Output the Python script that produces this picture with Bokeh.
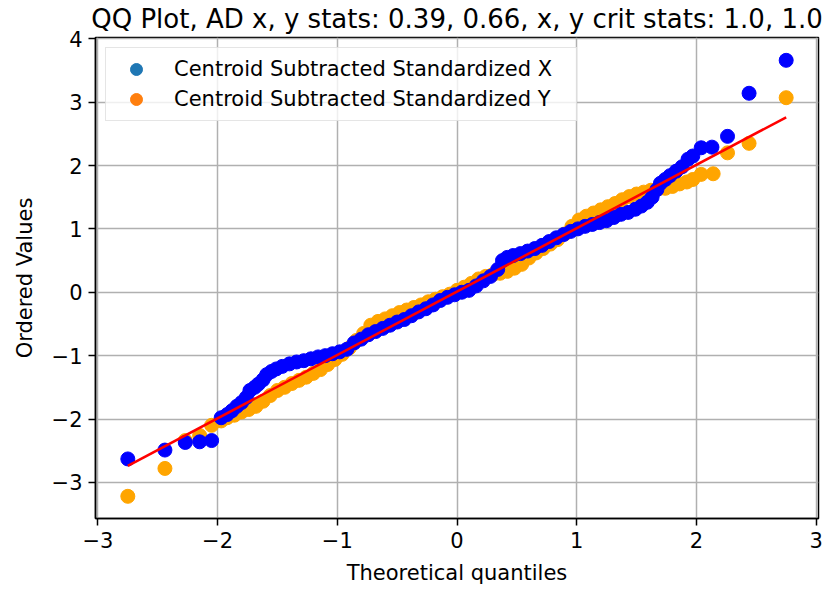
from bokeh.plotting import figure
from bokeh.models import ColumnDataSource, FixedTicker, Legend, LegendItem, Range1d
from bokeh.embed import file_html
from bokeh.resources import INLINE

# ---- texts ----
title_text = "QQ Plot, AD x, y stats: 0.39, 0.66, x, y crit stats: 1.0, 1.0"
x_label = "Theoretical quantiles"
y_label = "Ordered Values"
name_x = "Centroid Subtracted Standardized X"
name_y = "Centroid Subtracted Standardized Y"

# ---- X series: theoretical quantile vs ordered value ----
quant_x = [-2.75, -2.44, -2.27, -2.15, -2.05, -1.97, -1.92, -1.88, -1.84, -1.80,
           -1.76, -1.73, -1.69, -1.66, -1.62, -1.59, -1.55, -1.51, -1.46, -1.40,
           -1.34, -1.28, -1.22, -1.16, -1.10, -1.04, -0.98, -0.92, -0.86, -0.80,
           -0.74, -0.68, -0.62, -0.56, -0.50, -0.44, -0.38, -0.32, -0.26, -0.20,
           -0.14, -0.08, -0.02, 0.04, 0.10, 0.16, 0.22, 0.28, 0.34, 0.38,
           0.42, 0.47, 0.53, 0.59, 0.65, 0.71, 0.77, 0.83, 0.89, 0.95,
           1.01, 1.07, 1.13, 1.19, 1.25, 1.31, 1.37, 1.43, 1.49, 1.54,
           1.59, 1.63, 1.67, 1.70, 1.74, 1.78, 1.83, 1.88, 1.93, 1.97,
           2.04, 2.13, 2.26, 2.44, 2.75]
ordered_x = [-2.63, -2.49, -2.37, -2.36, -2.34, -1.98, -1.93, -1.87, -1.80, -1.74,
             -1.66, -1.55, -1.50, -1.45, -1.38, -1.30, -1.25, -1.21, -1.17, -1.13,
             -1.10, -1.08, -1.05, -1.02, -1.00, -0.97, -0.94, -0.90, -0.80, -0.74,
             -0.67, -0.62, -0.57, -0.52, -0.47, -0.43, -0.37, -0.31, -0.26, -0.20,
             -0.13, -0.08, -0.04, 0.00, 0.03, 0.10, 0.18, 0.25, 0.36, 0.50,
             0.55, 0.58, 0.61, 0.65, 0.69, 0.74, 0.80, 0.86, 0.91, 0.96,
             1.00, 1.04, 1.07, 1.10, 1.13, 1.18, 1.23, 1.26, 1.31, 1.36,
             1.42, 1.50, 1.62, 1.72, 1.78, 1.84, 1.91, 1.98, 2.10, 2.15,
             2.28, 2.29, 2.46, 3.14, 3.66]

# ---- Y series ----
quant_y = [-2.75, -2.44, -2.27, -2.15, -2.05, -1.97, -1.92, -1.86, -1.80, -1.74,
           -1.68, -1.62, -1.56, -1.50, -1.44, -1.38, -1.32, -1.26, -1.20, -1.14,
           -1.08, -1.02, -0.96, -0.90, -0.84, -0.78, -0.72, -0.66, -0.60, -0.54,
           -0.48, -0.42, -0.36, -0.30, -0.24, -0.18, -0.12, -0.06, 0.00, 0.06,
           0.12, 0.18, 0.24, 0.30, 0.36, 0.42, 0.48, 0.54, 0.60, 0.66,
           0.72, 0.78, 0.84, 0.90, 0.96, 1.02, 1.08, 1.14, 1.20, 1.26,
           1.32, 1.38, 1.44, 1.50, 1.56, 1.62, 1.68, 1.74, 1.80, 1.86,
           1.92, 1.97, 2.04, 2.14, 2.26, 2.44, 2.75]
ordered_y = [-3.22, -2.78, -2.34, -2.26, -2.10, -2.03, -1.98, -1.94, -1.89, -1.85,
             -1.80, -1.72, -1.63, -1.55, -1.50, -1.44, -1.39, -1.34, -1.28, -1.22,
             -1.14, -1.06, -0.98, -0.88, -0.76, -0.65, -0.52, -0.46, -0.42, -0.37,
             -0.32, -0.28, -0.24, -0.20, -0.15, -0.11, -0.07, -0.03, 0.03, 0.08,
             0.14, 0.21, 0.25, 0.28, 0.30, 0.33, 0.38, 0.44, 0.54, 0.62,
             0.69, 0.76, 0.83, 0.92, 1.04, 1.14, 1.20, 1.25, 1.30, 1.35,
             1.40, 1.46, 1.51, 1.55, 1.58, 1.61, 1.63, 1.64, 1.67, 1.71,
             1.74, 1.78, 1.86, 1.87, 2.20, 2.35, 3.07]

# ---- least-squares reference line ----
fit_slope = 1.0
fit_intercept = 0.01

# ---- ticks ----
x_ticks = [-3, -2, -1, 0, 1, 2, 3]
x_tick_labels = ["\u22123", "\u22122", "\u22121", "0", "1", "2", "3"]
y_ticks = [-3, -2, -1, 0, 1, 2, 3, 4]
y_tick_labels = ["\u22123", "\u22122", "\u22121", "0", "1", "2", "3", "4"]

FONT = "DejaVu Sans"

p = figure(width=826, height=589,
           x_range=Range1d(-3.02, 3.02), y_range=Range1d(-3.57, 4.02),
           output_backend="svg", toolbar_location=None,
           min_border_left=95, min_border_right=8,
           min_border_top=37, min_border_bottom=71)

p.background_fill_color = "white"
p.border_fill_color = "white"
p.outline_line_color = "black"
p.outline_line_width = 1.5
p.outline_line_alpha = 1.0

p.title.text = title_text
p.title.text_font = FONT
p.title.text_font_size = "26px"
p.title.text_font_style = "normal"
p.title.text_color = "black"
p.title.align = "center"
p.title.vertical_align = "top"
p.title.standoff = 4

p.xaxis.ticker = FixedTicker(ticks=x_ticks)
p.yaxis.ticker = FixedTicker(ticks=y_ticks)
p.xaxis.major_label_overrides = dict(zip(x_ticks, x_tick_labels))
p.yaxis.major_label_overrides = dict(zip(y_ticks, y_tick_labels))
p.xaxis.axis_label = x_label
p.yaxis.axis_label = y_label

for ax in (p.xaxis[0], p.yaxis[0]):
    ax.axis_label_text_font = FONT
    ax.axis_label_text_font_size = "21px"
    ax.axis_label_text_font_style = "normal"
    ax.axis_label_text_color = "black"
    ax.major_label_text_font = FONT
    ax.major_label_text_font_size = "21px"
    ax.major_label_text_color = "black"
    ax.major_tick_out = 7
    ax.major_tick_in = 0
    ax.minor_tick_out = 0
    ax.minor_tick_in = 0
    ax.axis_line_color = "black"
    ax.axis_line_width = 1.5
    ax.major_tick_line_color = "black"
    ax.major_tick_line_width = 1.5
    ax.major_label_standoff = 6
p.xaxis[0].axis_label_standoff = 10
p.yaxis[0].axis_label_standoff = 12

p.grid.grid_line_color = "#b0b0b0"
p.grid.grid_line_width = 1.5

src_x = ColumnDataSource(data=dict(q=quant_x, v=ordered_x))
src_y = ColumnDataSource(data=dict(q=quant_y, v=ordered_y))

p.scatter(x="q", y="v", source=src_y, size=14, fill_color="orange", line_color="orange")
p.scatter(x="q", y="v", source=src_x, size=14, fill_color="blue", line_color="blue")

fit_x = [min(quant_x), max(quant_x)]
fit_y = [fit_slope * v + fit_intercept for v in fit_x]
p.line(fit_x, fit_y, line_color="red", line_width=2.6)

# legend swatches use the default palette colours (no visible data of their own)
nan = float("nan")
key_x = p.scatter(x=[nan], y=[nan], size=14, fill_color="#1f77b4", line_color="#1f77b4")
key_y = p.scatter(x=[nan], y=[nan], size=14, fill_color="#ff7f0e", line_color="#ff7f0e")

legend = Legend(items=[LegendItem(label=name_x, renderers=[key_x], index=0),
                       LegendItem(label=name_y, renderers=[key_y], index=0)],
                location="top_left", margin=10, padding=6, spacing=0,
                glyph_height=30, glyph_width=48, label_standoff=14,
                label_width=396, label_height=24,
                label_text_font=FONT, label_text_font_size="21px",
                label_text_color="black",
                border_line_color="#cccccc", border_line_width=1.5,
                background_fill_color="white", background_fill_alpha=0.8)
p.add_layout(legend)

open("out.html", "w").write(file_html(p, INLINE))
